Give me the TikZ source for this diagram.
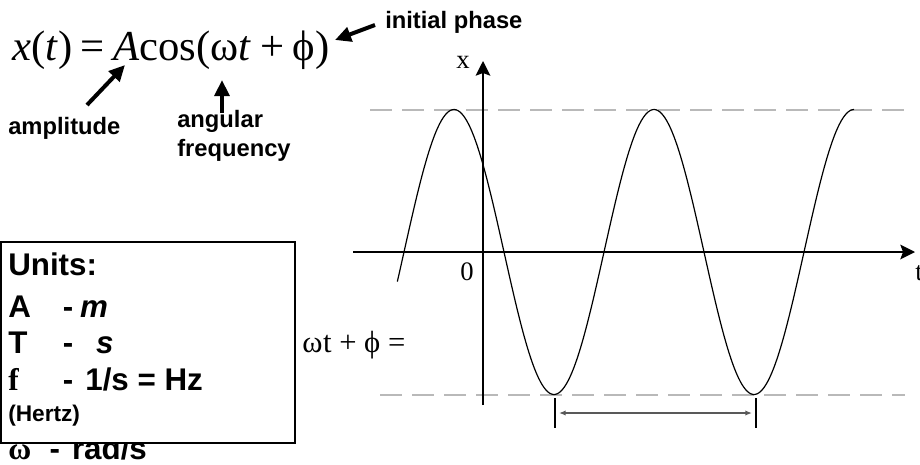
\documentclass[tikz,border=0pt]{standalone}
\usepackage{fontspec}
\setmainfont{Liberation Serif}
\setsansfont{Liberation Sans}
\usetikzlibrary{arrows.meta}

\tikzset{
  lbl/.style={font=\sffamily\bfseries\fontsize{17.8}{21.75}\selectfont,inner sep=0pt},
  unit/.style={font=\sffamily\bfseries\fontsize{23.5}{27}\selectfont,inner sep=0pt,anchor=base west},
  fat/.style={line width=3pt,-{Triangle[length=12pt,width=11pt]}},
  ampline/.style={gray!55,line width=2pt,dash pattern=on 16.5pt off 7.5pt},
  axisline/.style={line width=1.4pt,-{Stealth[length=11pt,width=11pt,inset=2pt]}},
  serif/.style={font=\fontsize{20}{24}\selectfont,inner sep=0pt},
}

\begin{document}
\begin{tikzpicture}[x=0.75pt,y=-0.75pt]
  \useasboundingbox (0,0) rectangle (920,464);

  \node[anchor=west,inner sep=0pt,font=\fontsize{32}{36}\selectfont] (formula) at (12,50)
    {\textit{x}(\textit{t})\hspace{0.2em}=\hspace{0.2em}\textit{A}cos(ω\textit{t}\hspace{0.2em}+\hspace{0.2em}ϕ)};
  \node[lbl,anchor=west] (phase) at (385,22) {initial phase};
  \node[lbl,anchor=west] (amp) at (8,128) {amplitude};
  \node[lbl,anchor=north west,align=left] (angfreq) at (177,110) {angular\\frequency};
  \coordinate (phaseTail) at (375,25);
  \coordinate (phaseTip) at (335,40);
  \coordinate (ampTail) at (87,105);
  \coordinate (ampTip) at (125,65);
  \coordinate (angTail) at (222,113);
  \coordinate (angTip) at (222,80);
  \path[draw,fat] (phaseTail) -- (phaseTip);
  \path[draw,fat] (ampTail) -- (ampTip);
  \path[draw,fat] (angTail) -- (angTip);

  % units box, the last line runs under its lower edge
  \node[unit] (unitw) at (8,459) {\makebox[31pt][l]{\rmfamily ω}-\hspace{9pt}rad/s};
  \path[draw,fill=white,line width=2pt] (1,242) rectangle (295,443);
  \node[unit] (units) at (8,275) {Units:};
  \node[unit] (unitA) at (8,317) {\makebox[41pt][l]{A}-\hspace{5pt}\textit{m}};
  \node[unit] (unitT) at (8,353) {\makebox[41pt][l]{T}-\hspace{17pt}\textit{s}};
  \node[unit] (unitf) at (8,390) {\makebox[41pt][l]{\rmfamily f}-\hspace{9pt}1/s = Hz};
  \node[unit,font=\sffamily\bfseries\fontsize{17}{20}\selectfont] (hertz) at (8,421) {(Hertz)};

  \node[anchor=base west,inner sep=0pt,font=\fontsize{23}{27}\selectfont] (phasesum) at (302,352) {ω\kern0.5pt t + ϕ =};

  % graph
  \path[draw,ampline] (370,110) -- (905,110);
  \path[draw,ampline] (380,395) -- (905,395);
  \coordinate (tStart) at (353,252);
  \coordinate (tEnd) at (915,252);
  \coordinate (xStart) at (483,405);
  \coordinate (xEnd) at (483,61);
  \path[draw,axisline] (tStart) -- (tEnd);
  \path[draw,axisline] (xStart) -- (xEnd);
  \node[serif] (xlabel) at (463,62) {x};
  \node[serif] (zero) at (467,272) {0};
  \node[serif,anchor=base west] (tlabel) at (915,280) {t};
  \draw[line width=0.9pt] plot[domain=-102:720,samples=250,smooth] ({454+\x/1.8},{252-142.5*cos(\x)});

  \path[draw,line width=1.5pt] (555,398) -- (555,428);
  \path[draw,line width=1.5pt] (756,398) -- (756,428);
  \coordinate (perL) at (559,413);
  \coordinate (perR) at (752,413);
  \path[draw,black!65,line width=1pt,{Latex[length=5pt,width=4pt]}-{Latex[length=5pt,width=4pt]}] (perL) -- (perR);
\end{tikzpicture}
\end{document}
